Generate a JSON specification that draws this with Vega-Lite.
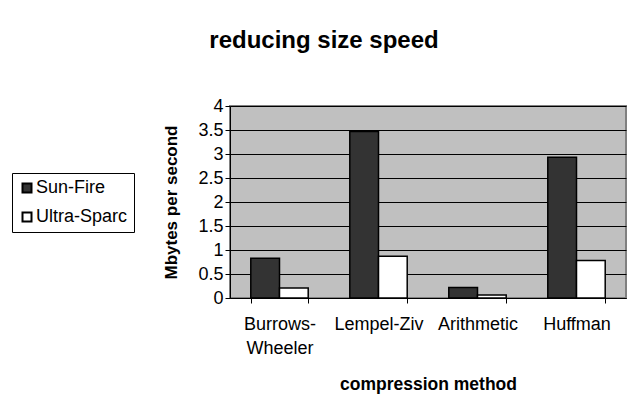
{
  "$schema": "https://vega.github.io/schema/vega-lite/v6.json",
  "width": 396,
  "height": 192,
  "autosize": "none",
  "padding": {"left": 230, "top": 106, "right": 14, "bottom": 117},
  "background": "white",
  "title": {
    "text": "reducing size speed",
    "fontSize": 24,
    "font": "Liberation Sans",
    "fontWeight": "bold",
    "color": "black",
    "anchor": "middle",
    "baseline": "alphabetic",
    "dx": -104,
    "offset": 25
  },
  "data": {
    "values": [
      {"method": "Burrows-Wheeler", "series": "Sun-Fire", "value": 0.83},
      {"method": "Burrows-Wheeler", "series": "Ultra-Sparc", "value": 0.21},
      {"method": "Lempel-Ziv", "series": "Sun-Fire", "value": 3.47},
      {"method": "Lempel-Ziv", "series": "Ultra-Sparc", "value": 0.87},
      {"method": "Arithmetic", "series": "Sun-Fire", "value": 0.22},
      {"method": "Arithmetic", "series": "Ultra-Sparc", "value": 0.06},
      {"method": "Huffman", "series": "Sun-Fire", "value": 2.93},
      {"method": "Huffman", "series": "Ultra-Sparc", "value": 0.78}
    ]
  },
  "mark": {"type": "bar", "stroke": "black", "strokeWidth": 1.5},
  "encoding": {
    "x": {
      "field": "method",
      "type": "nominal",
      "sort": null,
      "scale": {"paddingInner": 0.42, "paddingOuter": 0.21},
      "axis": {
        "title": "compression method",
        "titleFontSize": 17.5,
        "titleFontWeight": "bold",
        "titlePadding": 18,
        "labelAngle": 0,
        "labelFontSize": 18,
        "labelPadding": 12,
        "labelLineHeight": 24,
        "labelExpr": "datum.value == 'Burrows-Wheeler' ? ['Burrows-', 'Wheeler'] : datum.value",
        "tickBand": "extent",
        "tickSize": 5,
        "grid": false
      }
    },
    "xOffset": {
      "field": "series",
      "type": "nominal",
      "sort": null,
      "scale": {"paddingInner": 0, "paddingOuter": 0}
    },
    "y": {
      "field": "value",
      "type": "quantitative",
      "scale": {"domain": [0, 4], "nice": false},
      "axis": {
        "title": "Mbytes per second",
        "titleFontSize": 17,
        "titleFontWeight": "bold",
        "titlePadding": 17,
        "values": [0, 0.5, 1, 1.5, 2, 2.5, 3, 3.5, 4],
        "format": "~g",
        "labelFontSize": 18,
        "labelPadding": 2,
        "tickSize": 5,
        "grid": true,
        "gridColor": "black",
        "gridWidth": 1
      }
    },
    "color": {
      "field": "series",
      "type": "nominal",
      "scale": {"domain": ["Sun-Fire", "Ultra-Sparc"], "range": ["#333333", "#ffffff"]},
      "legend": {
        "orient": "none",
        "legendX": -218,
        "legendY": 67,
        "title": null,
        "strokeColor": "black",
        "padding": 6,
        "symbolType": "square",
        "symbolSize": 81,
        "symbolStrokeColor": "black",
        "symbolStrokeWidth": 2,
        "symbolOpacity": 1,
        "labelFontSize": 18,
        "labelColor": "black",
        "rowPadding": 11,
        "labelOffset": 0
      }
    }
  },
  "config": {
    "font": "Liberation Sans",
    "view": {"fill": "#c0c0c0", "stroke": "#808080", "strokeWidth": 2},
    "axis": {
      "domainColor": "black",
      "domainWidth": 1,
      "tickColor": "black",
      "labelColor": "black",
      "titleColor": "black",
      "labelFont": "Liberation Sans",
      "titleFont": "Liberation Sans"
    },
    "legend": {"labelFont": "Liberation Sans"}
  }
}
